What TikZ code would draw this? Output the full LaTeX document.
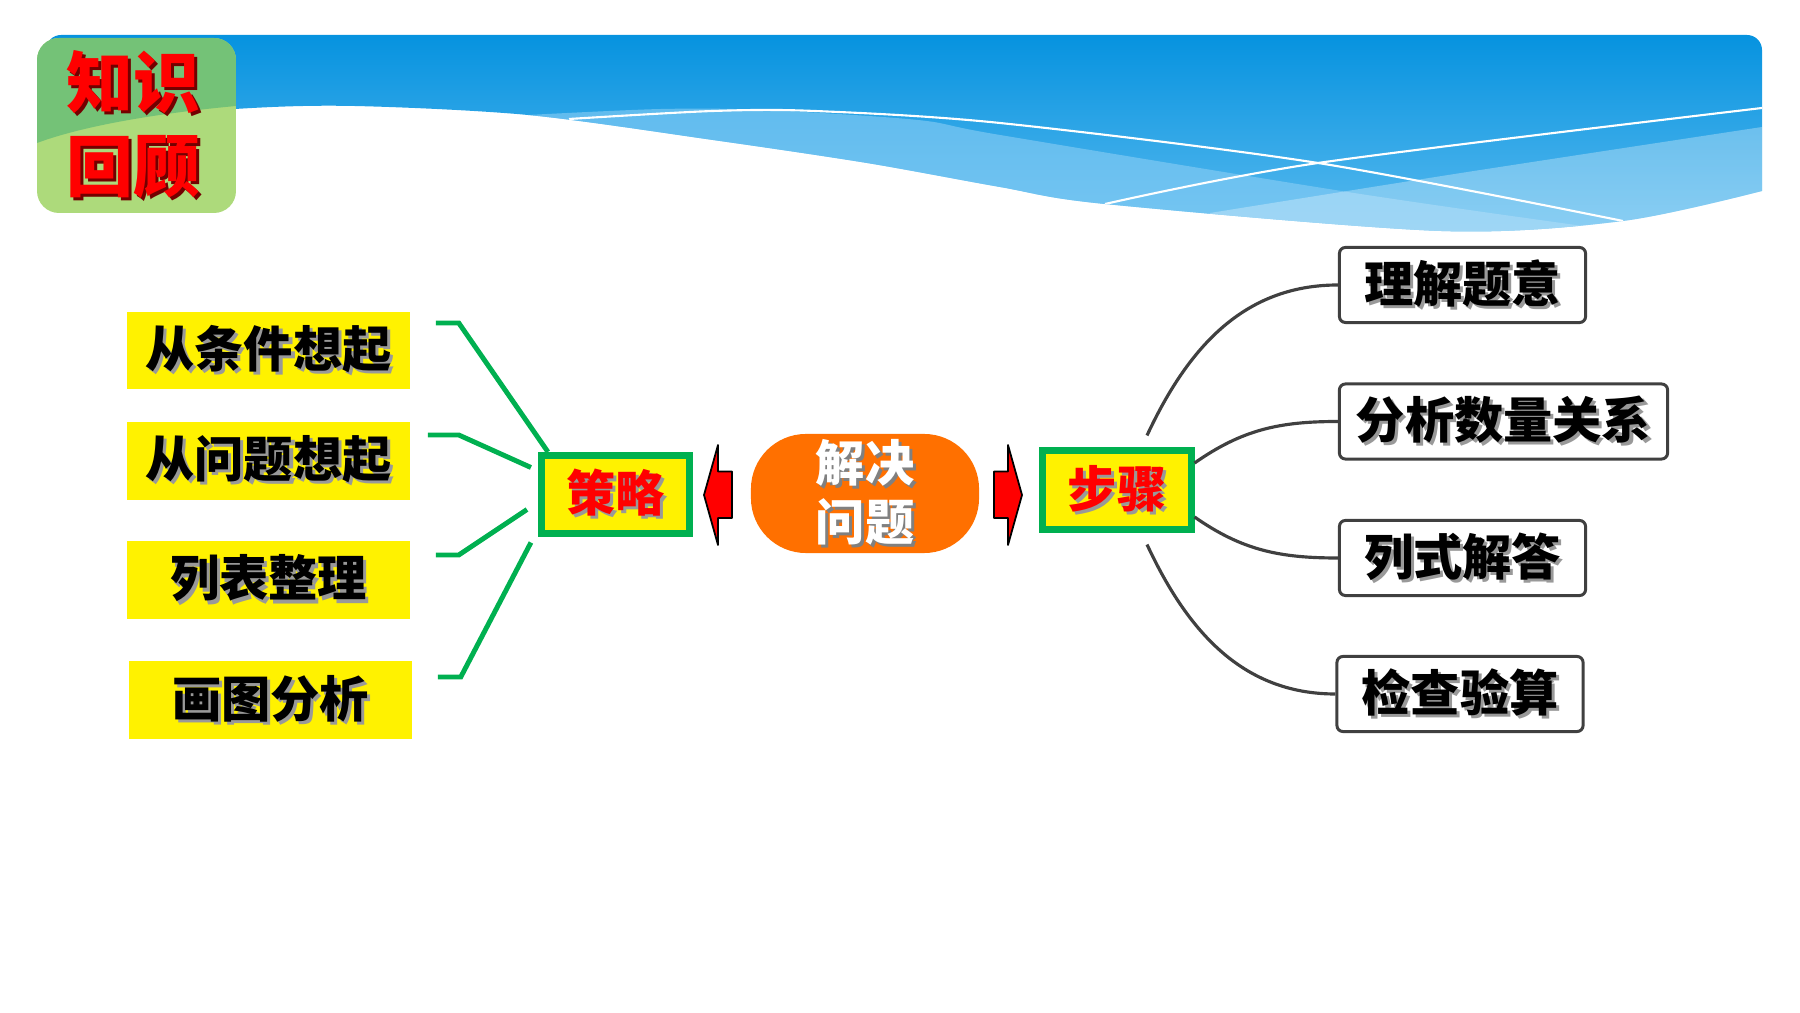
\documentclass[tikz,border=0pt]{standalone}
\usepackage{fontspec}
\setmainfont{Noto Sans CJK SC}
\usetikzlibrary{calc}

\definecolor{skyblue}{HTML}{0592DF}
\definecolor{paleblue}{HTML}{5BBBEF}
\definecolor{bandblue}{HTML}{8ACEF5}
\definecolor{leafdark}{HTML}{74C277}
\definecolor{leaflight}{HTML}{ADDA7B}
\definecolor{linkgreen}{HTML}{00B050}
\definecolor{coreorange}{HTML}{FF7000}
\definecolor{stepgray}{HTML}{404040}

% text with a soft drop shadow
\newcommand\shd[2][black!40]{\makebox[0pt][l]{\hspace{0.9pt}\raisebox{-0.9pt}{\color{#1}#2}}#2}

\tikzset{
  strat/.style={fill=yellow, minimum width=2.83cm, minimum height=0.77cm, inner sep=0pt,
    font=\fontsize{14}{16}\selectfont\bfseries},
  hub/.style={draw=linkgreen, line width=2pt, fill=yellow, minimum width=1.48cm,
    minimum height=0.78cm, inner sep=0pt, text=red, font=\fontsize{14}{16}\selectfont\bfseries},
  core/.style={fill=coreorange, rounded corners=0.55cm, minimum width=2.28cm,
    minimum height=1.19cm, inner sep=0pt, text=white, align=center,
    font=\fontsize{14}{16.8}\selectfont\bfseries},
  stepbox/.style={draw=stepgray, line width=0.85pt, fill=white, rounded corners=0.06cm,
    minimum height=0.75cm, inner sep=0pt, font=\fontsize{14}{16}\selectfont\bfseries},
  title/.style={text=red, align=center, inner sep=0pt,
    font=\fontsize{19}{24}\selectfont\bfseries},
  stratline/.style={draw=linkgreen, line width=1.4pt},
  stepline/.style={draw=stepgray, line width=0.9pt},
  blockarrow/.style={fill=red, draw=black, line width=0.5pt, line join=round}
}

\begin{document}
\begin{tikzpicture}[x=0.01cm, y=0.01cm]
  \useasboundingbox (0,0) rectangle (1800,1012);

  % banner
  \begin{scope}
    \clip (46,887) -- (46,962) arc[start angle=180, end angle=90, radius=15] -- (1747,977)
      arc[start angle=90, end angle=0, radius=15] -- (1762,821)
      -- plot[smooth] coordinates {(1762,821) (1623,791) (1441,781) (1105,808) (1000,825)
        (867,849) (713,872) (528,897) (354,906) (235,903) (46,887)} -- cycle;
    \shade[top color=skyblue, bottom color=paleblue] (40,775) rectangle (1770,980);
    \fill[bandblue, opacity=.6] plot[smooth] coordinates {(528,897) (661,903) (764,902)
      (918,892) (1000,877) (1354,819) (1590,785)} -- (1590,760) -- (528,760) -- cycle;
    \fill[white, opacity=.3] plot[smooth] coordinates {(1210,799) (1461,839) (1762,885)}
      -- (1770,760) -- (1210,760) -- cycle;
    \draw[white, line width=0.6pt] plot[smooth] coordinates {(569,893) (713,901) (815,901)
      (1000,889) (1318,849) (1623,791)};
    \draw[white, line width=0.6pt] plot[smooth] coordinates {(1105,808) (1318,849) (1762,904)};
  \end{scope}

  % recap tab
  \begin{scope}
    \clip[rounded corners=0.22cm] (37,799) rectangle (236,974);
    \fill[leaflight] (37,799) rectangle (236,974);
    \fill[leafdark] (37,974) -- (236,974) -- (236,906)
      .. controls (150,898) and (80,885) .. (37,869) -- cycle;
  \end{scope}
  \node[title] (recap) at (133,886) {\shd[red!45!black]{知识}\\\shd[red!45!black]{回顾}};

  % strategies
  \node[strat] (s1) at (268.5,661.5) {\shd{从条件想起}};
  \node[strat] (s2) at (268.5,551) {\shd{从问题想起}};
  \node[strat] (s3) at (268.5,432) {\shd{列表整理}};
  \node[strat] (s4) at (270.5,312) {\shd{画图分析}};
  \node[hub] (cl) at (615.5,517.5) {\shd{策略}};

  \draw[stratline] ($(s1.east)+(25,27.5)$) -- ++(23,0) -- ($(cl.north west)+(10,0)$);
  \draw[stratline] ($(s2.east)+(17,26)$) -- ++(31,0) -- ($(cl.west)+(-7,27)$);
  \draw[stratline] ($(s3.east)+(25,25)$) -- ++(23,0) -- ($(cl.west)+(-11,-15)$);
  \draw[stratline] ($(s4.east)+(25,23)$) -- ++(23,0) -- ($(cl.west)+(-7,-48)$);

  % centre
  \node[core] (core) at (865,518.5) {\shd[black!50]{解决}\\\shd[black!50]{问题}};
  \draw[blockarrow] (704,517) -- (718,567) -- (718,540.5) -- (732,540.5) -- (732,494)
    -- (718,494) -- (718,467) -- cycle;
  \draw[blockarrow] (1022,517) -- (1008,567) -- (1008,540.5) -- (994,540.5) -- (994,494)
    -- (1008,494) -- (1008,467) -- cycle;

  % steps
  \node[hub] (st) at (1117,522) {\shd{步骤}};
  \node[stepbox, minimum width=2.46cm] (p1) at (1462.5,727) {\shd{理解题意}};
  \node[stepbox, minimum width=3.28cm] (p2) at (1503.5,590.5) {\shd{分析数量关系}};
  \node[stepbox, minimum width=2.46cm] (p3) at (1462.5,454) {\shd{列式解答}};
  \node[stepbox, minimum width=2.46cm] (p4) at (1460,318) {\shd{检查验算}};

  \draw[stepline] ($(st.north)+(30,12)$) to[out=65, in=180] (p1.west);
  \draw[stepline] ($(st.east)+(0,27)$) to[out=35, in=180] (p2.west);
  \draw[stepline] ($(st.east)+(0,-27)$) to[out=-35, in=180] (p3.west);
  \draw[stepline] ($(st.south)+(30,-12)$) to[out=-65, in=180] (p4.west);
\end{tikzpicture}
\end{document}
